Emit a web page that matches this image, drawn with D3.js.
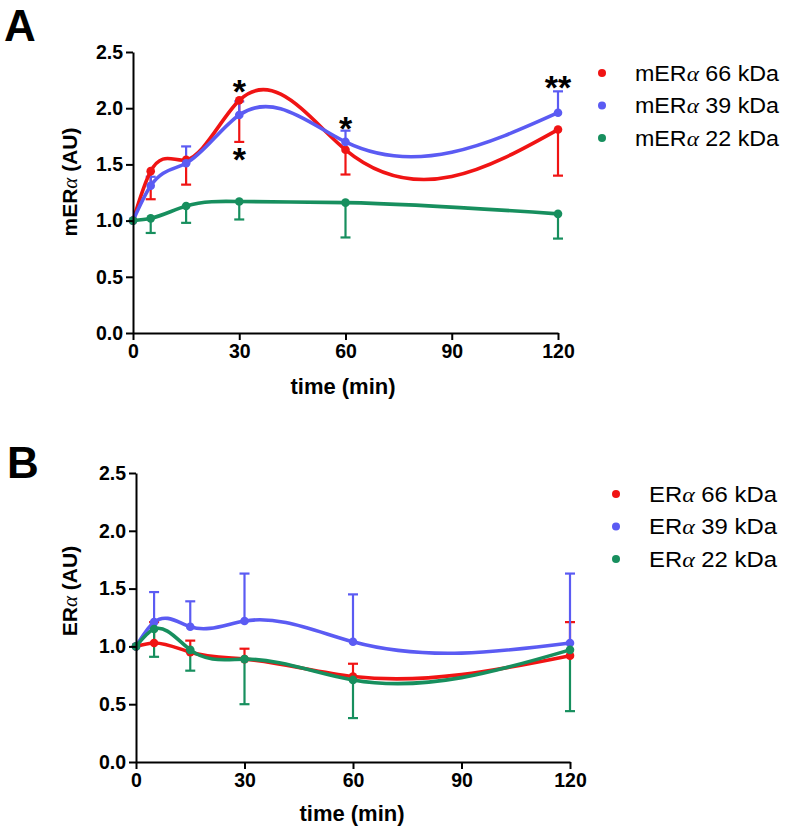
<!DOCTYPE html>
<html><head><meta charset="utf-8">
<script src="https://cdn.jsdelivr.net/npm/d3@7"></script>
<style>body{margin:0;background:#fff}svg{display:block}</style>
</head><body>
<svg id="c" width="785" height="837"></svg>
<script>
// ---------- DATA ----------
const times = [0, 5, 15, 30, 60, 120];
const xTicks = [0, 30, 60, 90, 120];
const yTicks = [0, 0.5, 1.0, 1.5, 2.0, 2.5];

const seriesNames = ["66 kDa", "39 kDa", "22 kDa"];
const seriesColors = ["#f01414", "#5b5bf3", "#178f5e"];

// Panel A (mERα)
const aRed   = [1.00, 1.44, 1.54, 2.07, 1.63, 1.81];
const aRedErr = [0, 0.25, 0.22, 0.37, 0.22, 0.41];   // drawn downward
const aBlue  = [1.00, 1.31, 1.51, 1.94, 1.70, 1.96];
const aBlueErr = [0, 0.08, 0.15, 0.12, 0.10, 0.19];  // drawn upward
const aGreen = [1.00, 1.02, 1.13, 1.17, 1.16, 1.06];
const aGreenErr = [0, 0.13, 0.15, 0.16, 0.31, 0.22]; // drawn downward
const aErrDir = [-1, 1, -1];

// Panel B (ERα)
const bRed   = [1.00, 1.03, 0.95, 0.89, 0.74, 0.92];
const bRedErr = [0, 0.18, 0.10, 0.09, 0.11, 0.29];   // upward
const bBlue  = [1.00, 1.21, 1.17, 1.22, 1.04, 1.03];
const bBlueErr = [0, 0.26, 0.22, 0.41, 0.41, 0.60];  // upward
const bGreen = [1.00, 1.15, 0.97, 0.89, 0.71, 0.97];
const bGreenErr = [0, 0.24, 0.18, 0.39, 0.33, 0.53]; // downward
const bErrDir = [1, 1, -1];

// significance marks for panel A: [time, value at glyph centre, text]
const aStars = [[30, 2.22, "*"], [30, 1.61, "*"], [60, 1.89, "*"], [120, 2.25, "**"]];

// ---------- natural cubic spline in x (like GraphPad spline) ----------
function NaturalX(context) { this._context = context; }
NaturalX.prototype = {
  areaStart() { this._line = 0; },
  areaEnd() { this._line = NaN; },
  lineStart() { this._x = []; this._y = []; },
  point(x, y) { this._x.push(+x); this._y.push(+y); },
  lineEnd() {
    const x = this._x, y = this._y, n = x.length, c = this._context;
    if (!n) return;
    c.moveTo(x[0], y[0]);
    if (n === 2) { c.lineTo(x[1], y[1]); return; }
    const h = [], M = new Array(n).fill(0);
    for (let i = 0; i < n - 1; i++) h.push(x[i + 1] - x[i]);
    const a = [], b = [], cc = [], d = [];
    for (let i = 1; i < n - 1; i++) {
      a.push(h[i - 1]); b.push(2 * (h[i - 1] + h[i])); cc.push(h[i]);
      d.push(6 * ((y[i + 1] - y[i]) / h[i] - (y[i] - y[i - 1]) / h[i - 1]));
    }
    const m = b.length;
    for (let i = 1; i < m; i++) {
      const w = a[i] / b[i - 1];
      b[i] -= w * cc[i - 1]; d[i] -= w * d[i - 1];
    }
    const sol = new Array(m);
    sol[m - 1] = d[m - 1] / b[m - 1];
    for (let i = m - 2; i >= 0; i--) sol[i] = (d[i] - cc[i] * sol[i + 1]) / b[i];
    for (let i = 0; i < m; i++) M[i + 1] = sol[i];
    for (let i = 0; i < n - 1; i++) {
      const hh = h[i], s = (y[i + 1] - y[i]) / hh;
      const m0 = s - hh * (2 * M[i] + M[i + 1]) / 6;
      const m1 = s + hh * (M[i] + 2 * M[i + 1]) / 6;
      c.bezierCurveTo(x[i] + hh / 3, y[i] + m0 * hh / 3, x[i + 1] - hh / 3, y[i + 1] - m1 * hh / 3, x[i + 1], y[i + 1]);
    }
  }
};
const curveNaturalX = ctx => new NaturalX(ctx);

// ---------- drawing ----------
const svg = d3.select("#c");
const FONT = "'Liberation Sans', Arial, sans-serif";

function panel(cfg) {
  const x = d3.scaleLinear().domain([0, 120]).range(cfg.xr);
  const y = d3.scaleLinear().domain([0, 2.5]).range(cfg.yr);
  const g = svg.append("g");

  const line = d3.line().x((d, i) => x(times[i])).y(d => y(d)).curve(curveNaturalX);

  cfg.series.forEach((vals, k) => {
    const col = seriesColors[k];
    const err = cfg.errs[k], dir = cfg.dir[k];
    const eg = g.append("g").attr("stroke", col).attr("stroke-width", 2.2).attr("fill", "none");
    vals.forEach((v, i) => {
      if (!err[i]) return;
      const end = v + dir * err[i];
      eg.append("line").attr("x1", x(times[i])).attr("x2", x(times[i])).attr("y1", y(v)).attr("y2", y(end));
      eg.append("line").attr("x1", x(times[i]) - 5).attr("x2", x(times[i]) + 5).attr("y1", y(end)).attr("y2", y(end));
    });
  });
  cfg.series.forEach((vals, k) => {
    const col = seriesColors[k];
    g.append("path").attr("d", line(vals)).attr("fill", "none").attr("stroke", col).attr("stroke-width", 3.6);
    g.selectAll(null).data(vals).enter().append("circle")
      .attr("cx", (d, i) => x(times[i])).attr("cy", d => y(d)).attr("r", 4.3).attr("fill", col);
  });

  // axes
  const xa = g.append("g").attr("transform", `translate(0,${cfg.yr[0]})`)
    .call(d3.axisBottom(x).tickValues(xTicks).tickSize(7).tickSizeOuter(0).tickPadding(4));
  const ya = g.append("g").attr("transform", `translate(${cfg.xr[0]},0)`)
    .call(d3.axisLeft(y).tickValues(yTicks).tickFormat(d3.format(".1f")).tickSize(7).tickSizeOuter(0).tickPadding(3));
  [xa, ya].forEach(a => {
    a.selectAll("path,line").attr("stroke", "#000").attr("stroke-width", 2);
    a.selectAll("text").attr("font-family", FONT).attr("font-weight", "bold").attr("font-size", 19.5).attr("fill", "#000");
  });

  // axis titles
  g.append("text").attr("x", cfg.xt[0]).attr("y", cfg.xt[1]).attr("text-anchor", "middle")
    .attr("font-family", FONT).attr("font-weight", "bold").attr("font-size", 22).text("time (min)");
  const yt = g.append("text").attr("transform", `translate(${cfg.yt[0]},${cfg.yt[1]}) rotate(-90)`)
    .attr("text-anchor", "middle").attr("font-family", FONT).attr("font-weight", "bold").attr("font-size", 21);
  yt.append("tspan").text(cfg.prefix);
  yt.append("tspan").attr("font-family", "'Liberation Serif', serif").attr("font-style", "italic").attr("font-weight", "normal").text("α");
  yt.append("tspan").text(" (AU)");

  // panel letter
  svg.append("text").attr("x", cfg.letter[0]).attr("y", cfg.letter[1]).attr("font-family", FONT)
    .attr("font-weight", "bold").attr("font-size", 44).text(cfg.letterText);

  // legend
  seriesNames.forEach((nm, k) => {
    const ly = cfg.leg[1] + k * 32.5;
    g.append("circle").attr("cx", cfg.leg[0]).attr("cy", ly).attr("r", 4).attr("fill", seriesColors[k]);
    const t = g.append("text").attr("x", cfg.leg[0] + 33).attr("y", ly + 7.5).attr("font-family", FONT).attr("font-size", 21.5)
      .attr("textLength", cfg.legLen).attr("lengthAdjust", "spacingAndGlyphs");
    t.append("tspan").text(cfg.prefix);
    t.append("tspan").attr("font-family", "'Liberation Serif', serif").attr("font-style", "italic").text("α");
    t.append("tspan").text(" " + nm);
  });

  (cfg.stars || []).forEach(s => {
    g.append("text").attr("x", x(s[0])).attr("y", y(s[1]) + 0.57 * 34).attr("text-anchor", "middle")
      .attr("font-family", FONT).attr("font-weight", "bold").attr("font-size", 34).text(s[2]);
  });
}

panel({
  xr: [133, 558], yr: [333, 52],
  series: [aRed, aBlue, aGreen], errs: [aRedErr, aBlueErr, aGreenErr], dir: aErrDir,
  xt: [343, 394], yt: [77, 182], prefix: "mER",
  letter: [4, 40.5], letterText: "A", leg: [602, 73], legLen: 144, stars: aStars
});
panel({
  xr: [136, 570], yr: [762, 473],
  series: [bRed, bBlue, bGreen], errs: [bRedErr, bBlueErr, bGreenErr], dir: bErrDir,
  xt: [352, 821], yt: [77, 591], prefix: "ER",
  letter: [7, 478], letterText: "B", leg: [616, 494], legLen: 128
});
</script>
</body></html>
